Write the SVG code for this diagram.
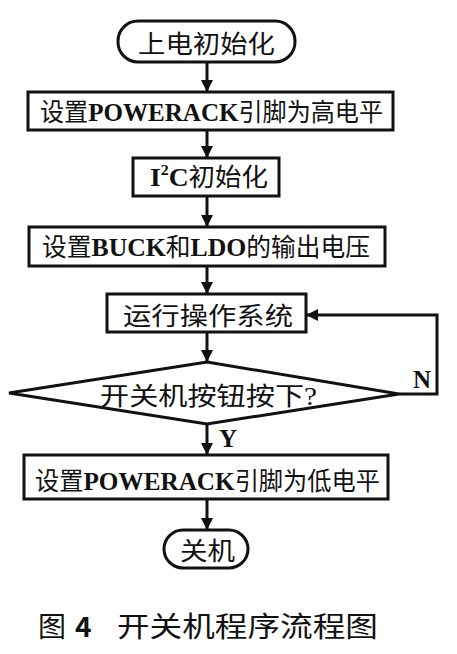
<svg xmlns="http://www.w3.org/2000/svg" width="457" height="654" viewBox="0 0 457 654">
<defs>
<style>
.n{fill:#fff;stroke:#111;stroke-width:3}
.c{fill:none;stroke:#111;stroke-width:3}
.t{font-family:"Liberation Serif","Noto Sans CJK SC",serif;font-size:25px;fill:#111}
.l{font-weight:bold;font-size:26px}
.cap{font-family:"Noto Sans CJK SC","Liberation Sans",sans-serif;font-size:28px;fill:#111}
</style>
<marker id="a" markerUnits="userSpaceOnUse" markerWidth="12" markerHeight="14" refX="12" refY="6" orient="auto">
<path d="M0,0 L12,6 L0,12 Z" fill="#111"/>
</marker>
</defs>
<rect width="457" height="654" fill="#fff"/>
<g id="connectors">
<line class="c" x1="207" y1="62" x2="207" y2="92" marker-end="url(#a)"/>
<line class="c" x1="207" y1="130" x2="207" y2="158" marker-end="url(#a)"/>
<line class="c" x1="207" y1="196" x2="207" y2="227" marker-end="url(#a)"/>
<line class="c" x1="207" y1="266" x2="207" y2="294" marker-end="url(#a)"/>
<line class="c" x1="207" y1="332" x2="207" y2="362" marker-end="url(#a)"/>
<line class="c" x1="207" y1="424" x2="207" y2="455" marker-end="url(#a)"/>
<line class="c" x1="207" y1="499" x2="207" y2="530" marker-end="url(#a)"/>
<polyline class="c" points="399,394 437,394 437,315 306,315" marker-end="url(#a)"/>
<text class="t" x="413" y="388" font-size="24" font-weight="bold">N</text>
<text class="t" x="219" y="447" font-size="24" font-weight="bold">Y</text>
</g>
<g id="start">
<rect class="n" x="118" y="21" width="177" height="41" rx="20"/>
<text class="t" x="138" y="53" textLength="137" lengthAdjust="spacingAndGlyphs">上电初始化</text>
</g>
<g id="set-high">
<rect class="n" x="28" y="92" width="365" height="38"/>
<text class="t" x="40" y="121" textLength="343" lengthAdjust="spacingAndGlyphs">设置<tspan class="l">POWERACK</tspan>引脚为高电平</text>
</g>
<g id="i2c">
<rect class="n" x="133" y="158" width="146" height="38"/>
<text class="t" x="150" y="186" textLength="118" lengthAdjust="spacingAndGlyphs"><tspan class="l">I</tspan><tspan font-weight="bold" font-size="15" dy="-11">2</tspan><tspan class="l" dy="11">C</tspan>初始化</text>
</g>
<g id="set-voltage">
<rect class="n" x="29" y="227" width="356" height="39"/>
<text class="t" x="42" y="256" textLength="328" lengthAdjust="spacingAndGlyphs">设置<tspan class="l">BUCK</tspan>和<tspan class="l">LDO</tspan>的输出电压</text>
</g>
<g id="run-os">
<rect class="n" x="107" y="294" width="199" height="38"/>
<text class="t" x="123" y="325" textLength="170" lengthAdjust="spacingAndGlyphs">运行操作系统</text>
</g>
<g id="decision">
<polygon class="n" points="207,362 399,394 207,424 9,393"/>
<text class="t" x="100" y="405" textLength="217" lengthAdjust="spacingAndGlyphs">开关机按钮按下?</text>
</g>
<g id="set-low">
<rect class="n" x="24" y="455" width="364" height="44"/>
<text class="t" x="35" y="490" textLength="345" lengthAdjust="spacingAndGlyphs">设置<tspan class="l">POWERACK</tspan>引脚为低电平</text>
</g>
<g id="end">
<rect class="n" x="164" y="530" width="84" height="38" rx="19"/>
<text class="t" x="180" y="560" textLength="55" lengthAdjust="spacingAndGlyphs">关机</text>
</g>
<g id="caption">
<text class="cap" x="38" y="637">图</text>
<text class="cap" x="75" y="637" font-weight="bold">4</text>
<text class="cap" x="117" y="637" textLength="261" lengthAdjust="spacingAndGlyphs">开关机程序流程图</text>
</g>
</svg>
